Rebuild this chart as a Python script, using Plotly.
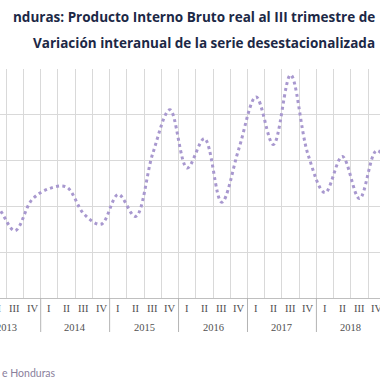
import plotly.graph_objects as go

# ---- data (quarterly, interannual variation of seasonally adjusted real GDP, %) ----
years = ["2013"] * 4 + ["2014"] * 4 + ["2015"] * 4 + ["2016"] * 4 + ["2017"] * 4 + ["2018"] * 4 + ["2019"]
quarters = ["I", "II", "III", "IV"] * 6 + ["I"]
values = [2.20, 1.98, 1.47, 2.15,
          2.39, 2.42, 1.84, 1.61,
          2.26, 1.78, 3.15, 4.11,
          2.84, 3.48, 2.09, 3.26,
          4.39, 3.35, 4.87, 3.15,
          2.30, 3.09, 2.17, 3.22,
          2.70]
title_text = "nduras: Producto Interno Bruto real al III trimestre de"
subtitle_text = "Variación interanual de la serie desestacionalizada"
source_text = "e Honduras"

# quarter index, 2014-I = 0
idx = [i - 4 for i in range(len(values))]
X0, X1 = -2.862, 19.19          # visible window of the category axis
Y0, Y1 = 0, 5

W, H = 380, 380
M_T, M_B = 69, 82
plot_h = H - M_T - M_B

LINE_COLOR = "#a898cf"
GRID = "#d9d9d9"
LABEL_COLOR = "#505050"
TITLE_FONT = "Open Sans"

fig = go.Figure()
fig.add_trace(go.Scatter(
    x=idx, y=values, mode="lines",
    line=dict(color=LINE_COLOR, width=3, dash="3px,3.3px", shape="spline", smoothing=1.0),
    hoverinfo="skip", showlegend=False,
))

def px_frac(v):
    return (v - X0) / (X1 - X0)

annotations = []
# quarter labels
for k, q in zip(idx, quarters):
    f = px_frac(k)
    if -0.05 < f < 1.05:
        annotations.append(dict(x=f, xref="paper", y=0, yref="paper", yshift=-10.5,
                                text=q, showarrow=False, xanchor="center", yanchor="middle",
                                font=dict(family="Liberation Serif", size=10.5, color=LABEL_COLOR)))
# year labels and separators
uniq_years = []
for y in years:
    if y not in uniq_years:
        uniq_years.append(y)
shapes = []
for yr in uniq_years:
    ks = [k for k, y in zip(idx, years) if y == yr]
    if len(ks) < 4:
        continue
    center = (ks[0] + ks[-1]) / 2
    annotations.append(dict(x=px_frac(center), xref="paper", y=0, yref="paper", yshift=-29.5,
                            text=yr, showarrow=False, xanchor="center", yanchor="middle",
                            font=dict(family="Liberation Serif", size=10.5, color=LABEL_COLOR)))
    b = ks[0] - 0.5
    if X0 < b < X1:
        shapes.append(dict(type="line", xref="x", yref="paper", x0=b, x1=b,
                           y0=0, y1=-34 / plot_h, line=dict(color="#b4b4b4", width=1)))

annotations.append(dict(x=377 / W, xref="paper", y=1, yref="paper", yshift=52,
                        text="<b>" + title_text + "</b>", showarrow=False,
                        xanchor="right", yanchor="middle",
                        font=dict(family=TITLE_FONT, size=13.5, color="#1c2846")))
annotations.append(dict(x=377 / W, xref="paper", y=1, yref="paper", yshift=26.5,
                        text="<b>" + subtitle_text + "</b>", showarrow=False,
                        xanchor="right", yanchor="middle",
                        font=dict(family=TITLE_FONT, size=13.5, color="#1c2846")))
annotations.append(dict(x=0, xref="paper", y=0, yref="paper", yshift=-74.7,
                        text=source_text, showarrow=False,
                        xanchor="left", yanchor="middle",
                        font=dict(family="Lato", size=10.5, color="#8a809c")))

boundaries = [k + 0.5 for k in range(-5, 21)]

fig.update_layout(
    width=W, height=H,
    margin=dict(l=0, r=0, t=M_T, b=M_B, pad=0),
    paper_bgcolor="white", plot_bgcolor="white",
    xaxis=dict(range=[X0, X1], tickvals=boundaries, showticklabels=False, ticks="",
               showgrid=True, gridcolor=GRID, gridwidth=1, zeroline=False,
               showline=True, linecolor="#bfbfbf", linewidth=1, fixedrange=True),
    yaxis=dict(range=[Y0, Y1], tickvals=list(range(Y0, Y1 + 1)), showticklabels=False, ticks="",
               showgrid=True, gridcolor=GRID, gridwidth=1, zeroline=False, showline=False,
               fixedrange=True),
    annotations=annotations, shapes=shapes,
    showlegend=False,
)

fig.write_html("out.html",
               config={"displayModeBar": False, "staticPlot": True},
               post_script="document.body.style.margin='0px';document.body.style.overflow='hidden';")
